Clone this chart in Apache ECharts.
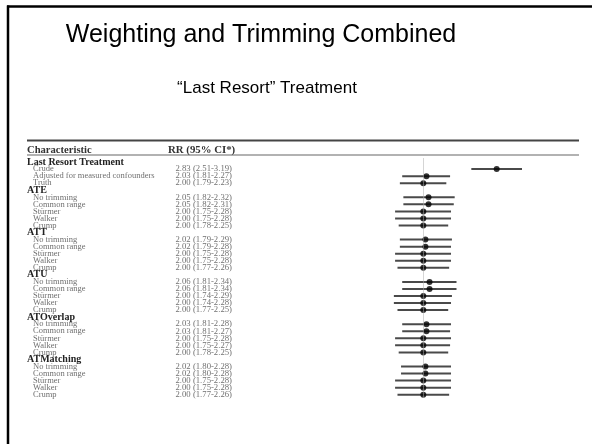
<!DOCTYPE html>
<html>
<head>
<meta charset="utf-8">
<script src="https://cdn.jsdelivr.net/npm/echarts@6/dist/echarts.min.js"></script>
<style>
  html, body { margin: 0; padding: 0; background: #fff; }
  #chart { width: 592px; height: 444px; }
</style>
</head>
<body>
<div id="chart"></div>
<script>
// Rows of the forest table; group headings have no estimate (null).
const categories = [
  'Last Resort Treatment', 'Crude', 'Adjusted for measured confounders', 'Truth',
  'ATE', 'No trimming', 'Common range', 'Stürmer', 'Walker', 'Crump',
  'ATT', 'No trimming', 'Common range', 'Stürmer', 'Walker', 'Crump',
  'ATU', 'No trimming', 'Common range', 'Stürmer', 'Walker', 'Crump',
  'ATOverlap', 'No trimming', 'Common range', 'Stürmer', 'Walker', 'Crump',
  'ATMatching', 'No trimming', 'Common range', 'Stürmer', 'Walker', 'Crump'
];
const rr = [
  null, 2.83, 2.03, 2.00,
  null, 2.05, 2.05, 2.00, 2.00, 2.00,
  null, 2.02, 2.02, 2.00, 2.00, 2.00,
  null, 2.06, 2.06, 2.00, 2.00, 2.00,
  null, 2.03, 2.03, 2.00, 2.00, 2.00,
  null, 2.02, 2.02, 2.00, 2.00, 2.00
];
const ciLow = [
  null, 2.51, 1.81, 1.79,
  null, 1.82, 1.82, 1.75, 1.75, 1.78,
  null, 1.79, 1.79, 1.75, 1.75, 1.77,
  null, 1.81, 1.81, 1.74, 1.74, 1.77,
  null, 1.81, 1.81, 1.75, 1.75, 1.78,
  null, 1.80, 1.80, 1.75, 1.75, 1.77
];
const ciHigh = [
  null, 3.19, 2.27, 2.23,
  null, 2.32, 2.31, 2.28, 2.28, 2.25,
  null, 2.29, 2.28, 2.28, 2.28, 2.26,
  null, 2.34, 2.34, 2.29, 2.28, 2.25,
  null, 2.28, 2.27, 2.28, 2.27, 2.25,
  null, 2.28, 2.28, 2.28, 2.28, 2.26
];
const nullValue = 2.0;
const xMin = 1.5, xMax = 3.5;

const gridLeft = 362.5, gridRight = 50.4, gridTop = 158.5;
const rowStep = 7.05;
const labelX = 27, valueX = 175.5;

const intervals = [];
const points = [];
rr.forEach((v, i) => {
  if (v === null) return;
  intervals.push([ciLow[i], ciHigh[i], i]);
  points.push([v, i]);
});

const chart = echarts.init(document.getElementById('chart'));
chart.setOption({
  animation: false,
  backgroundColor: '#fff',
  title: [
    { text: 'Weighting and Trimming Combined', left: 256, top: 18, textAlign: 'center',
      textStyle: { fontFamily: 'Liberation Sans, Arial, sans-serif', fontSize: 25, fontWeight: 'normal', color: '#000' } },
    { text: '“Last Resort” Treatment', left: 262, top: 75, textAlign: 'center',
      textStyle: { fontFamily: 'Liberation Sans, Arial, sans-serif', fontSize: 17, fontWeight: 'normal', color: '#000' } }
  ],
  graphic: [
    // slide frame
    { type: 'line', shape: { x1: 7, y1: 6.5, x2: 592, y2: 6.5 }, style: { stroke: '#000', lineWidth: 2.5 } },
    { type: 'line', shape: { x1: 8, y1: 5.5, x2: 8, y2: 444 }, style: { stroke: '#000', lineWidth: 2.5 } },
    // table header rules and captions
    { type: 'line', shape: { x1: 27, y1: 140.5, x2: 579, y2: 140.5 }, style: { stroke: '#444', lineWidth: 2 } },
    { type: 'line', shape: { x1: 27, y1: 155, x2: 579, y2: 155 }, style: { stroke: '#999', lineWidth: 1.5 } },
    { type: 'text', x: 27, y: 150, style: { text: 'Characteristic', fill: '#333',
      font: 'bold 10.6px "Liberation Serif", serif', verticalAlign: 'middle' } },
    { type: 'text', x: 168, y: 150, style: { text: 'RR (95% CI*)', fill: '#333',
      font: 'bold 10.8px "Liberation Serif", serif', verticalAlign: 'middle' } }
  ],
  grid: { left: gridLeft, right: gridRight, top: gridTop, height: rowStep * categories.length },
  xAxis: {
    type: 'log', min: xMin, max: xMax, logBase: 10,
    axisLine: { show: false }, axisTick: { show: false }, axisLabel: { show: false }, splitLine: { show: false }
  },
  yAxis: [
    {
      type: 'category', data: categories, inverse: true,
      axisLine: { show: false }, axisTick: { show: false }, splitLine: { show: false },
      axisLabel: {
        interval: 0, align: 'left', margin: gridLeft - labelX,
        formatter: (v, i) => rr[i] === null ? '{h|' + v + '}' : '{i|' + v + '}',
        rich: {
          h: { fontFamily: 'Liberation Serif, serif', fontWeight: 'bold', fontSize: 10, color: '#222' },
          i: { fontFamily: 'Liberation Serif, serif', fontSize: 8.5, color: '#707070', padding: [0, 0, 0, 6] }
        }
      }
    },
    {
      type: 'category', data: categories, inverse: true, position: 'left',
      axisLine: { show: false }, axisTick: { show: false }, splitLine: { show: false },
      axisLabel: {
        interval: 0, align: 'left', margin: gridLeft - valueX,
        fontFamily: 'Liberation Serif, serif', fontSize: 8.7, color: '#707070',
        formatter: (v, i) => rr[i] === null ? '' :
          rr[i].toFixed(2) + ' (' + ciLow[i].toFixed(2) + '-' + ciHigh[i].toFixed(2) + ')'
      }
    }
  ],
  series: [
    {
      type: 'custom',
      yAxisIndex: 0,
      data: intervals,
      renderItem: (params, api) => {
        const a = api.coord([api.value(0), api.value(2)]);
        const b = api.coord([api.value(1), api.value(2)]);
        return { type: 'line', shape: { x1: a[0], y1: a[1], x2: b[0], y2: b[1] },
          style: { stroke: '#4a4a4a', lineWidth: 2 } };
      },
      markLine: {
        silent: true, symbol: 'none', label: { show: false },
        lineStyle: { color: '#aaa', type: 'dotted', width: 1 },
        data: [{ xAxis: nullValue }]
      },
      z: 2
    },
    {
      type: 'scatter',
      yAxisIndex: 0,
      data: points,
      symbol: 'circle', symbolSize: 6,
      itemStyle: { color: '#000' },
      z: 3
    }
  ]
});
</script>
</body>
</html>
